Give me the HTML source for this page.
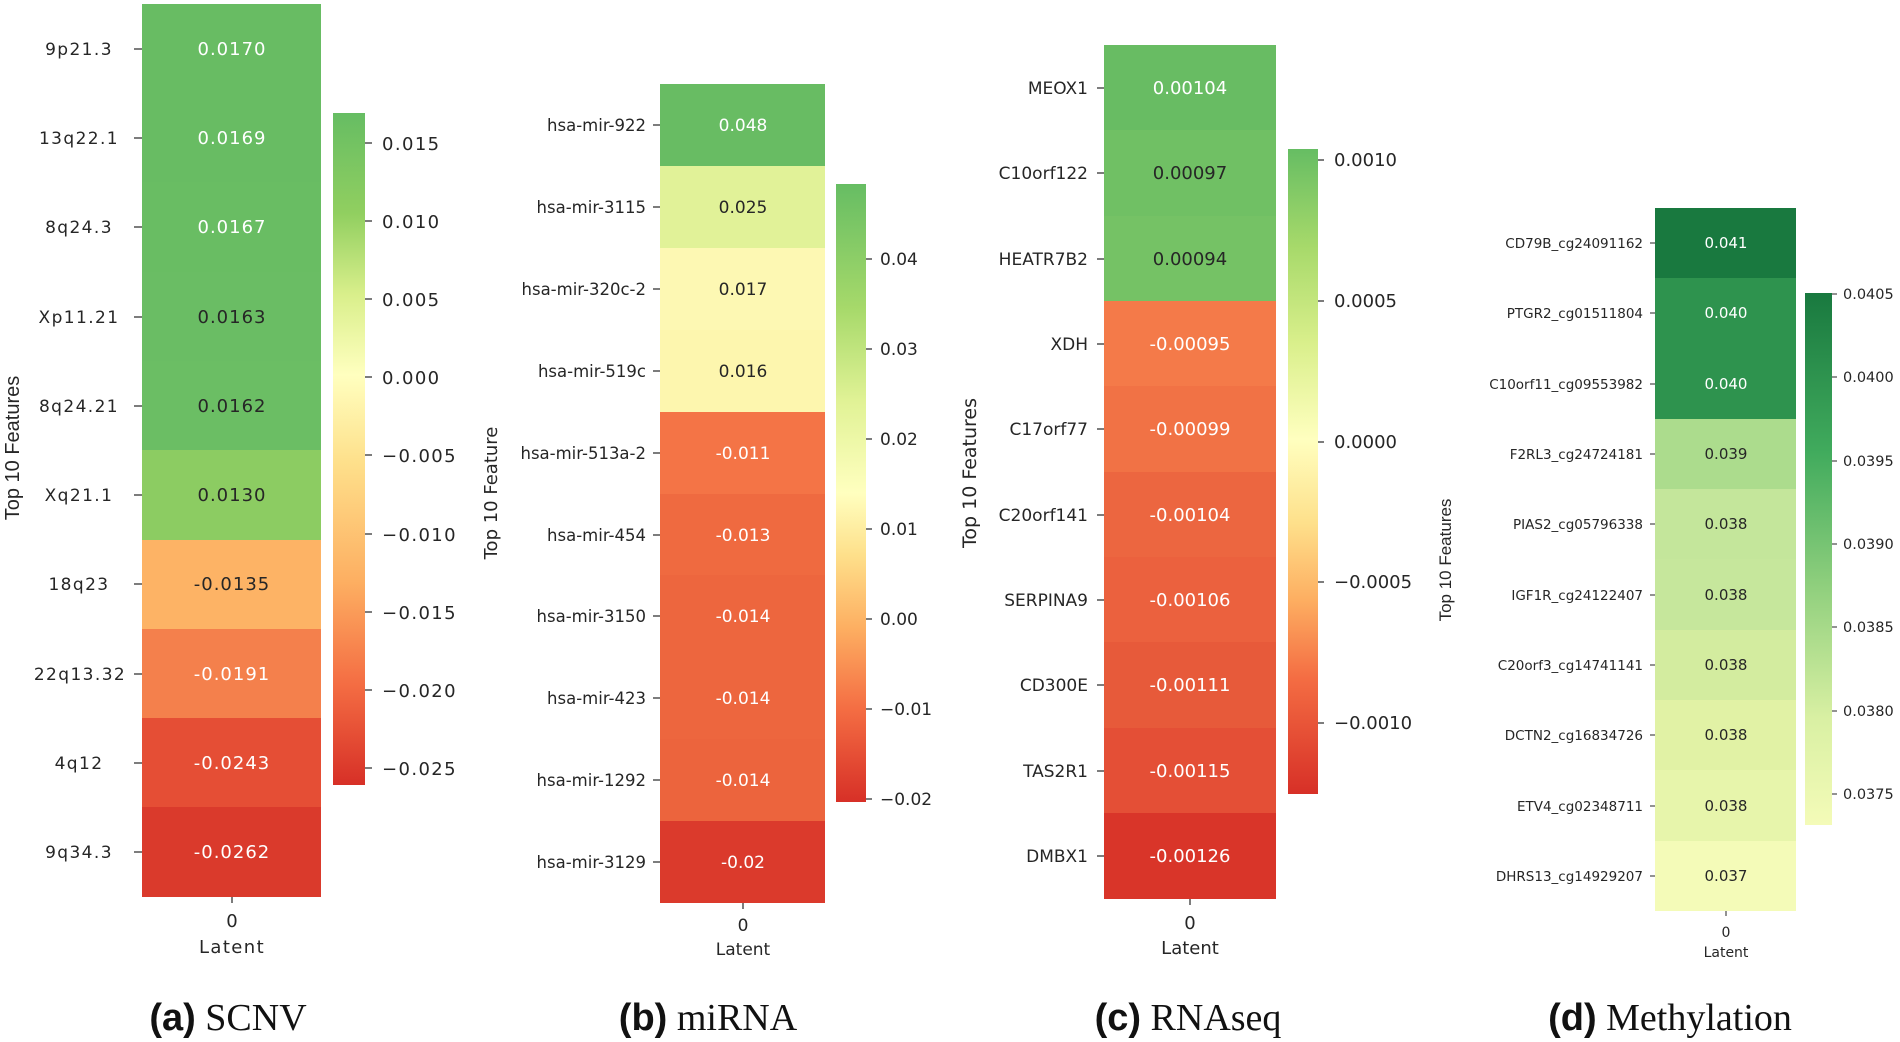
<!DOCTYPE html>
<html><head><meta charset="utf-8"><style>
html,body{margin:0;padding:0;background:#fff;width:1900px;height:1042px;overflow:hidden}
svg text{font-family:"DejaVu Sans","Liberation Sans",sans-serif;fill:#262626}
.wa{letter-spacing:1.4px}
</style></head><body>
<svg width="1900" height="1042" xmlns="http://www.w3.org/2000/svg">
<defs>
<linearGradient id="ga" x1="0" y1="0" x2="0" y2="1">
<stop offset="0" stop-color="#66bd63"/><stop offset="0.15" stop-color="#91cf60"/><stop offset="0.27" stop-color="#d9ef8b"/><stop offset="0.39" stop-color="#ffffbf"/><stop offset="0.52" stop-color="#fee08b"/><stop offset="0.70" stop-color="#fdae61"/><stop offset="0.85" stop-color="#f46d43"/><stop offset="1" stop-color="#d73027"/>
</linearGradient>
<linearGradient id="gb" x1="0" y1="0" x2="0" y2="1">
<stop offset="0" stop-color="#66bd63"/><stop offset="0.2" stop-color="#a6d96a"/><stop offset="0.35" stop-color="#e0f295"/><stop offset="0.5" stop-color="#ffffbf"/><stop offset="0.6" stop-color="#fee08b"/><stop offset="0.72" stop-color="#fdae61"/><stop offset="0.85" stop-color="#f46d43"/><stop offset="1" stop-color="#d73027"/>
</linearGradient>
<linearGradient id="gc" x1="0" y1="0" x2="0" y2="1">
<stop offset="0" stop-color="#66bd63"/><stop offset="0.15" stop-color="#a6d96a"/><stop offset="0.30" stop-color="#d9ef8b"/><stop offset="0.45" stop-color="#ffffbf"/><stop offset="0.58" stop-color="#fee08b"/><stop offset="0.70" stop-color="#fdae61"/><stop offset="0.82" stop-color="#f46d43"/><stop offset="1" stop-color="#d73027"/>
</linearGradient>
<linearGradient id="gd" x1="0" y1="0" x2="0" y2="1">
<stop offset="0" stop-color="#19793f"/><stop offset="0.3" stop-color="#41ab5d"/><stop offset="0.55" stop-color="#8fcf7d"/><stop offset="0.8" stop-color="#d9f0a3"/><stop offset="1" stop-color="#f4fbb8"/>
</linearGradient>
</defs>

<!-- Panel a -->
<g>
<rect x="142" y="4" width="179" height="90" fill="#68bc63"/>
<rect x="142" y="93" width="179" height="90" fill="#68bc63"/>
<rect x="142" y="182" width="179" height="90" fill="#69bd63"/>
<rect x="142" y="272" width="179" height="90" fill="#6abd64"/>
<rect x="142" y="361" width="179" height="90" fill="#6bbe64"/>
<rect x="142" y="450" width="179" height="90" fill="#8ccc62"/>
<rect x="142" y="540" width="179" height="90" fill="#fdb365"/>
<rect x="142" y="629" width="179" height="90" fill="#f4804c"/>
<rect x="142" y="718" width="179" height="90" fill="#e54e35"/>
<rect x="142" y="807" width="179" height="90" fill="#da3a2c"/>
<g font-size="18" text-anchor="middle" style="letter-spacing:1px">
<text x="232" y="55" style="fill:#fff">0.0170</text>
<text x="232" y="144" style="fill:#fff">0.0169</text>
<text x="232" y="233" style="fill:#fff">0.0167</text>
<text x="232" y="323" >0.0163</text>
<text x="232" y="412">0.0162</text>
<text x="232" y="501">0.0130</text>
<text x="232" y="590">-0.0135</text>
<text x="232" y="680" style="fill:#fff">-0.0191</text>
<text x="232" y="769" style="fill:#fff">-0.0243</text>
<text x="232" y="858" style="fill:#fff">-0.0262</text>
</g>
<g font-size="17" text-anchor="middle" class="wa">
<text x="79" y="55">9p21.3</text>
<text x="79" y="144">13q22.1</text>
<text x="79" y="233">8q24.3</text>
<text x="79" y="323">Xp11.21</text>
<text x="79" y="412">8q24.21</text>
<text x="79" y="501">Xq21.1</text>
<text x="79" y="590">18q23</text>
<text x="80" y="680">22q13.32</text>
<text x="79" y="769">4q12</text>
<text x="79" y="858">9q34.3</text>
</g>
<g stroke="#262626" stroke-width="1.2">
<line x1="134" y1="49" x2="142" y2="49"/><line x1="134" y1="138" x2="142" y2="138"/><line x1="134" y1="227" x2="142" y2="227"/><line x1="134" y1="317" x2="142" y2="317"/><line x1="134" y1="406" x2="142" y2="406"/><line x1="134" y1="495" x2="142" y2="495"/><line x1="134" y1="584" x2="142" y2="584"/><line x1="134" y1="674" x2="142" y2="674"/><line x1="134" y1="763" x2="142" y2="763"/><line x1="134" y1="852" x2="142" y2="852"/>
<line x1="232" y1="897" x2="232" y2="903"/>
</g>
<text x="0" y="0" font-size="20" text-anchor="middle" transform="translate(19,448) rotate(-90)" style="font-family:'Liberation Sans Narrow','Liberation Sans',sans-serif">Top 10 Features</text>
<text x="232" y="927" font-size="18" text-anchor="middle">0</text>
<text x="232" y="953" font-size="18" text-anchor="middle" class="wa">Latent</text>
<rect x="333" y="113" width="32" height="672" fill="url(#ga)"/>
<g stroke="#262626" stroke-width="1.2">
<line x1="365" y1="143" x2="372" y2="143"/><line x1="365" y1="221" x2="372" y2="221"/><line x1="365" y1="299" x2="372" y2="299"/><line x1="365" y1="377" x2="372" y2="377"/><line x1="365" y1="455" x2="372" y2="455"/><line x1="365" y1="534" x2="372" y2="534"/><line x1="365" y1="612" x2="372" y2="612"/><line x1="365" y1="690" x2="372" y2="690"/><line x1="365" y1="768" x2="372" y2="768"/>
</g>
<g font-size="18" class="wa">
<text x="382" y="150">0.015</text><text x="382" y="228">0.010</text><text x="382" y="306">0.005</text><text x="382" y="384">0.000</text><text x="382" y="462">−0.005</text><text x="382" y="541">−0.010</text><text x="382" y="619">−0.015</text><text x="382" y="697">−0.020</text><text x="382" y="775">−0.025</text>
</g>
<text x="228" y="1030" font-size="38" text-anchor="middle"><tspan style="font-family:'Liberation Sans',sans-serif;font-weight:bold;fill:#111">(a)</tspan><tspan style="font-family:'Liberation Serif',serif;fill:#111"> SCNV</tspan></text>
</g>

<!-- Panel b -->
<g>
<rect x="660" y="84" width="165" height="83" fill="#68bc63"/>
<rect x="660" y="166" width="165" height="83" fill="#e1f298"/>
<rect x="660" y="248" width="165" height="83" fill="#fdf8b3"/>
<rect x="660" y="330" width="165" height="83" fill="#fdf6ae"/>
<rect x="660" y="412" width="165" height="83" fill="#f47446"/>
<rect x="660" y="494" width="165" height="83" fill="#ef6a40"/>
<rect x="660" y="575" width="165" height="83" fill="#ed663e"/>
<rect x="660" y="657" width="165" height="83" fill="#ed663e"/>
<rect x="660" y="739" width="165" height="83" fill="#ec643d"/>
<rect x="660" y="821" width="165" height="82" fill="#db3a2c"/>
<g font-size="17" text-anchor="middle">
<text x="743" y="131" style="fill:#fff">0.048</text>
<text x="743" y="213">0.025</text>
<text x="743" y="295">0.017</text>
<text x="743" y="377">0.016</text>
<text x="743" y="459" style="fill:#fff">-0.011</text>
<text x="743" y="541" style="fill:#fff">-0.013</text>
<text x="743" y="622" style="fill:#fff">-0.014</text>
<text x="743" y="704" style="fill:#fff">-0.014</text>
<text x="743" y="786" style="fill:#fff">-0.014</text>
<text x="743" y="868" style="fill:#fff">-0.02</text>
</g>
<g font-size="16.5" text-anchor="end">
<text x="646" y="131">hsa-mir-922</text>
<text x="646" y="213">hsa-mir-3115</text>
<text x="646" y="295">hsa-mir-320c-2</text>
<text x="646" y="377">hsa-mir-519c</text>
<text x="646" y="459">hsa-mir-513a-2</text>
<text x="646" y="541">hsa-mir-454</text>
<text x="646" y="622">hsa-mir-3150</text>
<text x="646" y="704">hsa-mir-423</text>
<text x="646" y="786">hsa-mir-1292</text>
<text x="646" y="868">hsa-mir-3129</text>
</g>
<g stroke="#262626" stroke-width="1.2">
<line x1="653" y1="125" x2="660" y2="125"/><line x1="653" y1="207" x2="660" y2="207"/><line x1="653" y1="289" x2="660" y2="289"/><line x1="653" y1="371" x2="660" y2="371"/><line x1="653" y1="453" x2="660" y2="453"/><line x1="653" y1="535" x2="660" y2="535"/><line x1="653" y1="616" x2="660" y2="616"/><line x1="653" y1="698" x2="660" y2="698"/><line x1="653" y1="780" x2="660" y2="780"/><line x1="653" y1="862" x2="660" y2="862"/>
<line x1="743" y1="903" x2="743" y2="909"/>
</g>
<text x="0" y="0" font-size="18" text-anchor="middle" transform="translate(497,493) rotate(-90)">Top 10 Feature</text>
<text x="743" y="931" font-size="17" text-anchor="middle">0</text>
<text x="743" y="955" font-size="17" text-anchor="middle">Latent</text>
<rect x="836" y="184" width="30" height="618" fill="url(#gb)"/>
<g stroke="#262626" stroke-width="1.2">
<line x1="866" y1="259" x2="872" y2="259"/><line x1="866" y1="349" x2="872" y2="349"/><line x1="866" y1="439" x2="872" y2="439"/><line x1="866" y1="529" x2="872" y2="529"/><line x1="866" y1="619" x2="872" y2="619"/><line x1="866" y1="709" x2="872" y2="709"/><line x1="866" y1="799" x2="872" y2="799"/>
</g>
<g font-size="17">
<text x="880" y="265">0.04</text><text x="880" y="355">0.03</text><text x="880" y="445">0.02</text><text x="880" y="535">0.01</text><text x="880" y="625">0.00</text><text x="880" y="715">−0.01</text><text x="880" y="805">−0.02</text>
</g>
<text x="708" y="1030" font-size="38" text-anchor="middle"><tspan style="font-family:'Liberation Sans',sans-serif;font-weight:bold;fill:#111">(b)</tspan><tspan style="font-family:'Liberation Serif',serif;fill:#111"> miRNA</tspan></text>
</g>

<!-- Panel c -->
<g>
<rect x="1104" y="45" width="172" height="86" fill="#68bc63"/>
<rect x="1104" y="130" width="172" height="86" fill="#70c064"/>
<rect x="1104" y="216" width="172" height="86" fill="#75c265"/>
<rect x="1104" y="301" width="172" height="86" fill="#f47a49"/>
<rect x="1104" y="386" width="172" height="86" fill="#f17245"/>
<rect x="1104" y="472" width="172" height="86" fill="#ec6640"/>
<rect x="1104" y="557" width="172" height="86" fill="#eb613e"/>
<rect x="1104" y="642" width="172" height="86" fill="#e75a3a"/>
<rect x="1104" y="728" width="172" height="86" fill="#e44f36"/>
<rect x="1104" y="813" width="172" height="86" fill="#d93529"/>
<g font-size="18" text-anchor="middle">
<text x="1190" y="94" style="fill:#fff">0.00104</text>
<text x="1190" y="179">0.00097</text>
<text x="1190" y="265">0.00094</text>
<text x="1190" y="350" style="fill:#fff">-0.00095</text>
<text x="1190" y="435" style="fill:#fff">-0.00099</text>
<text x="1190" y="521" style="fill:#fff">-0.00104</text>
<text x="1190" y="606" style="fill:#fff">-0.00106</text>
<text x="1190" y="691" style="fill:#fff">-0.00111</text>
<text x="1190" y="777" style="fill:#fff">-0.00115</text>
<text x="1190" y="862" style="fill:#fff">-0.00126</text>
</g>
<g font-size="17" text-anchor="end">
<text x="1088" y="94">MEOX1</text>
<text x="1088" y="179">C10orf122</text>
<text x="1088" y="265">HEATR7B2</text>
<text x="1088" y="350">XDH</text>
<text x="1088" y="435">C17orf77</text>
<text x="1088" y="521">C20orf141</text>
<text x="1088" y="606">SERPINA9</text>
<text x="1088" y="691">CD300E</text>
<text x="1088" y="777">TAS2R1</text>
<text x="1088" y="862">DMBX1</text>
</g>
<g stroke="#262626" stroke-width="1.2">
<line x1="1097" y1="88" x2="1104" y2="88"/><line x1="1097" y1="173" x2="1104" y2="173"/><line x1="1097" y1="259" x2="1104" y2="259"/><line x1="1097" y1="344" x2="1104" y2="344"/><line x1="1097" y1="429" x2="1104" y2="429"/><line x1="1097" y1="515" x2="1104" y2="515"/><line x1="1097" y1="600" x2="1104" y2="600"/><line x1="1097" y1="685" x2="1104" y2="685"/><line x1="1097" y1="771" x2="1104" y2="771"/><line x1="1097" y1="856" x2="1104" y2="856"/>
<line x1="1190" y1="899" x2="1190" y2="905"/>
</g>
<text x="0" y="0" font-size="19" text-anchor="middle" transform="translate(976,473) rotate(-90)">Top 10 Features</text>
<text x="1190" y="929" font-size="18" text-anchor="middle">0</text>
<text x="1190" y="954" font-size="18" text-anchor="middle">Latent</text>
<rect x="1288" y="149" width="30" height="645" fill="url(#gc)"/>
<g stroke="#262626" stroke-width="1.2">
<line x1="1318" y1="160" x2="1324" y2="160"/><line x1="1318" y1="301" x2="1324" y2="301"/><line x1="1318" y1="442" x2="1324" y2="442"/><line x1="1318" y1="582" x2="1324" y2="582"/><line x1="1318" y1="723" x2="1324" y2="723"/>
</g>
<g font-size="18">
<text x="1334" y="166">0.0010</text><text x="1334" y="307">0.0005</text><text x="1334" y="448">0.0000</text><text x="1334" y="588">−0.0005</text><text x="1334" y="729">−0.0010</text>
</g>
<text x="1188" y="1030" font-size="38" text-anchor="middle"><tspan style="font-family:'Liberation Sans',sans-serif;font-weight:bold;fill:#111">(c)</tspan><tspan style="font-family:'Liberation Serif',serif;fill:#111"> RNAseq</tspan></text>
</g>

<!-- Panel d -->
<g>
<rect x="1655" y="208" width="141" height="71" fill="#19793f"/>
<rect x="1655" y="278" width="141" height="71" fill="#2e934e"/>
<rect x="1655" y="349" width="141" height="71" fill="#2e934e"/>
<rect x="1655" y="419" width="141" height="71" fill="#acdc8d"/>
<rect x="1655" y="489" width="141" height="71" fill="#c4e69b"/>
<rect x="1655" y="559" width="141" height="71" fill="#c6e79c"/>
<rect x="1655" y="630" width="141" height="71" fill="#d3ec9f"/>
<rect x="1655" y="700" width="141" height="71" fill="#e1f2a5"/>
<rect x="1655" y="770" width="141" height="71" fill="#e7f5ab"/>
<rect x="1655" y="841" width="141" height="70" fill="#f4fbb8"/>
<g font-size="15" text-anchor="middle">
<text x="1726" y="248" style="fill:#fff">0.041</text>
<text x="1726" y="318" style="fill:#fff">0.040</text>
<text x="1726" y="389" style="fill:#fff">0.040</text>
<text x="1726" y="459">0.039</text>
<text x="1726" y="529">0.038</text>
<text x="1726" y="600">0.038</text>
<text x="1726" y="670">0.038</text>
<text x="1726" y="740">0.038</text>
<text x="1726" y="811">0.038</text>
<text x="1726" y="881">0.037</text>
</g>
<g font-size="13.5" text-anchor="end">
<text x="1643" y="248">CD79B_cg24091162</text>
<text x="1643" y="318">PTGR2_cg01511804</text>
<text x="1643" y="389">C10orf11_cg09553982</text>
<text x="1643" y="459">F2RL3_cg24724181</text>
<text x="1643" y="529">PIAS2_cg05796338</text>
<text x="1643" y="600">IGF1R_cg24122407</text>
<text x="1643" y="670">C20orf3_cg14741141</text>
<text x="1643" y="740">DCTN2_cg16834726</text>
<text x="1643" y="811">ETV4_cg02348711</text>
<text x="1643" y="881">DHRS13_cg14929207</text>
</g>
<g stroke="#262626" stroke-width="1">
<line x1="1650" y1="243" x2="1655" y2="243"/><line x1="1650" y1="313" x2="1655" y2="313"/><line x1="1650" y1="384" x2="1655" y2="384"/><line x1="1650" y1="454" x2="1655" y2="454"/><line x1="1650" y1="524" x2="1655" y2="524"/><line x1="1650" y1="595" x2="1655" y2="595"/><line x1="1650" y1="665" x2="1655" y2="665"/><line x1="1650" y1="735" x2="1655" y2="735"/><line x1="1650" y1="806" x2="1655" y2="806"/><line x1="1650" y1="876" x2="1655" y2="876"/>
<line x1="1726" y1="911" x2="1726" y2="916"/>
</g>
<text x="0" y="0" font-size="17" text-anchor="middle" transform="translate(1451,560) rotate(-90)" style="font-family:'Liberation Sans Narrow','Liberation Sans',sans-serif">Top 10 Features</text>
<text x="1726" y="937" font-size="14" text-anchor="middle">0</text>
<text x="1726" y="957" font-size="14" text-anchor="middle">Latent</text>
<rect x="1805" y="293" width="27" height="532" fill="url(#gd)"/>
<g stroke="#262626" stroke-width="1">
<line x1="1832" y1="294" x2="1837" y2="294"/><line x1="1832" y1="377" x2="1837" y2="377"/><line x1="1832" y1="461" x2="1837" y2="461"/><line x1="1832" y1="544" x2="1837" y2="544"/><line x1="1832" y1="627" x2="1837" y2="627"/><line x1="1832" y1="711" x2="1837" y2="711"/><line x1="1832" y1="794" x2="1837" y2="794"/>
</g>
<g font-size="14.5">
<text x="1843" y="299">0.0405</text><text x="1843" y="382">0.0400</text><text x="1843" y="466">0.0395</text><text x="1843" y="549">0.0390</text><text x="1843" y="632">0.0385</text><text x="1843" y="716">0.0380</text><text x="1843" y="799">0.0375</text>
</g>
<text x="1670" y="1030" font-size="38" text-anchor="middle"><tspan style="font-family:'Liberation Sans',sans-serif;font-weight:bold;fill:#111">(d)</tspan><tspan style="font-family:'Liberation Serif',serif;fill:#111"> Methylation</tspan></text>
</g>
</svg>
</body></html>
